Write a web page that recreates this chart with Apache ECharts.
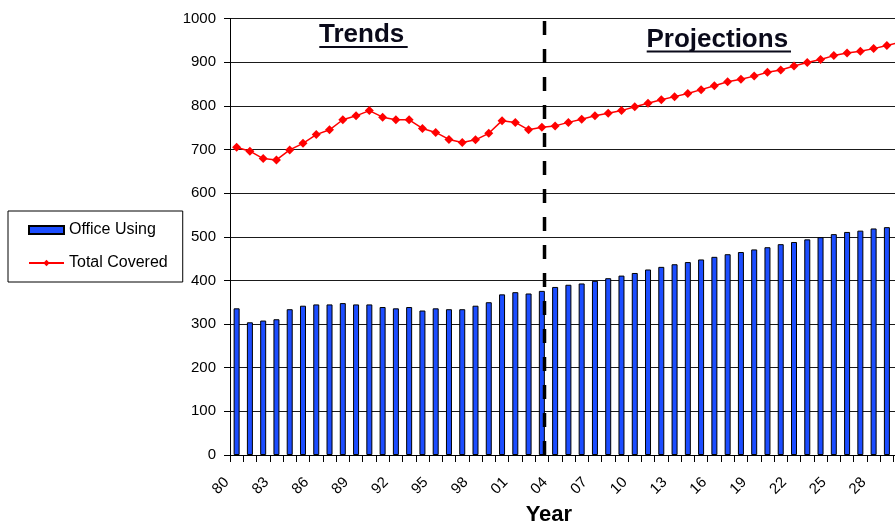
<!DOCTYPE html>
<html>
<head>
<meta charset="utf-8">
<title>Office Using / Total Covered</title>
<script src="https://cdn.jsdelivr.net/npm/echarts@6/dist/echarts.min.js"></script>
<style>
  html, body { margin: 0; padding: 0; background: #fff; }
  #chart { width: 895px; height: 521px; }
</style>
</head>
<body>
<div id="chart"></div>
<script>
// Years 1980–2030, shown as two-digit labels
const years = ['80','81','82','83','84','85','86','87','88','89',
  '90','91','92','93','94','95','96','97','98','99',
  '00','01','02','03','04','05','06','07','08','09',
  '10','11','12','13','14','15','16','17','18','19',
  '20','21','22','23','24','25','26','27','28','29','30'];

// Offices using the service (bars)
const officeUsing = [336,304,308,311,334,342,345,345,348,345,
  345,339,336,339,331,336,334,334,342,350,
  368,373,370,376,385,390,393,399,405,411,
  417,425,431,437,442,448,454,460,465,471,
  476,483,488,494,499,506,511,514,519,522,null];

// Total offices covered (line)
const totalCovered = [705,696,679,676,699,714,734,745,768,777,
  789,774,768,768,748,739,723,716,722,737,
  766,762,745,751,754,762,769,777,783,789,
  798,806,814,821,828,837,846,855,861,868,
  877,882,891,899,906,915,921,925,931,938,946];

// Y axis range and step
const yMin = 0, yMax = 1000, yStep = 100;

// Boundary between actual data and projections (category position)
const splitPos = 23.2;

const FONT = "'Liberation Sans', Arial, sans-serif";

const chart = echarts.init(document.getElementById('chart'), null, { renderer: 'canvas' });

chart.setOption({
  animation: false,
  backgroundColor: '#ffffff',
  textStyle: { fontFamily: FONT },
  grid: {
    left: 230, top: 18.5, bottom: 66, right: -11.8,
    containLabel: false,
    outerBoundsMode: 'none'
  },
  legend: {
    data: [
      { name: 'Office Using', icon: 'rect' },
      { name: 'Total Covered' }
    ],
    orient: 'vertical',
    left: 8,
    top: 211,
    padding: [10, 15, 10, 20],
    itemGap: 15,
    itemWidth: 35,
    itemHeight: 8,
    borderColor: '#000',
    borderWidth: 1,
    textStyle: { fontFamily: FONT, fontSize: 16, color: '#000', lineHeight: 18 }
  },
  xAxis: [
    {
      type: 'category',
      data: years,
      boundaryGap: true,
      name: 'Year',
      nameLocation: 'middle',
      nameGap: 48,
      nameTextStyle: { fontFamily: FONT, fontSize: 22, fontWeight: 'bold', color: '#000', padding: [0, 0, 0, -39] },
      axisLine: { onZero: false, lineStyle: { color: '#000', width: 1 } },
      axisTick: { show: true, length: 7, interval: 0, alignWithLabel: false, lineStyle: { color: '#000' } },
      axisLabel: {
        interval: 2, rotate: 45, margin: 15, padding: [0, 14, 0, 0],
        fontSize: 15, color: '#000', fontFamily: FONT
      },
      splitLine: { show: false }
    },
    {
      type: 'value',
      min: -0.5,
      max: years.length - 0.5,
      show: false
    }
  ],
  yAxis: {
    type: 'value',
    min: yMin,
    max: yMax,
    interval: yStep,
    axisLine: { show: true, onZero: false, lineStyle: { color: '#000', width: 1 } },
    axisTick: { show: true, length: 6, inside: false, lineStyle: { color: '#000' } },
    axisLabel: {
      margin: 14, fontSize: 15, color: '#000', fontFamily: FONT,
      formatter: function (v) { return String(v); }
    },
    splitLine: { show: true, lineStyle: { color: '#1a1a1a', width: 1 } }
  },
  series: [
    {
      name: 'Office Using',
      type: 'bar',
      data: officeUsing,
      barWidth: 6,
      itemStyle: { color: '#1c4dff', borderColor: '#000', borderWidth: 1 }
    },
    {
      name: 'Total Covered',
      type: 'line',
      data: totalCovered,
      symbol: 'diamond',
      symbolSize: 9,
      showAllSymbol: true,
      lineStyle: { color: '#ff0000', width: 1.5 },
      itemStyle: { color: '#ff0000' }
    },
    {
      name: 'split',
      type: 'line',
      xAxisIndex: 1,
      data: [[splitPos, 0], [splitPos, 1006]],
      symbol: 'none',
      silent: true,
      clip: false,
      z: 5,
      lineStyle: { color: '#000', width: 3.5, type: [14, 14] }
    }
  ],
  graphic: [
    {
      type: 'text', left: 319, top: 22,
      style: { text: 'Trends', fontFamily: FONT, fontSize: 26, fontWeight: 'bold', fill: '#0a0a1a' }
    },
    { type: 'rect', shape: { x: 319.3, y: 46, width: 88.4, height: 2 }, style: { fill: '#0a0a1a' } },
    {
      type: 'text', left: 646.5, top: 26.5,
      style: { text: 'Projections', fontFamily: FONT, fontSize: 26, fontWeight: 'bold', fill: '#0a0a1a' }
    },
    { type: 'rect', shape: { x: 646.7, y: 50.5, width: 144.3, height: 2 }, style: { fill: '#0a0a1a' } }
  ]
});
</script>
</body>
</html>
